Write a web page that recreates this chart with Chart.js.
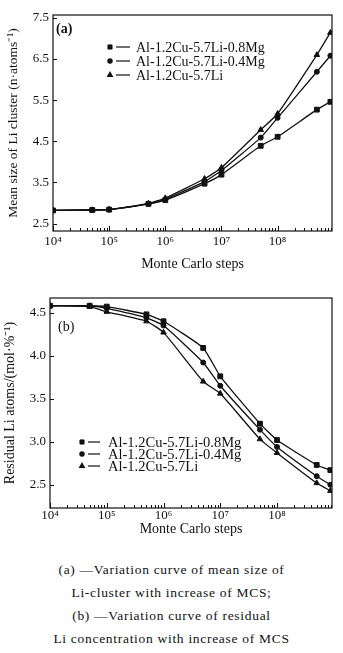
<!DOCTYPE html>
<html>
<head>
<meta charset="utf-8">
<script src="https://cdn.jsdelivr.net/npm/chart.js@4.4.1/dist/chart.umd.min.js"></script>
<style>
    html, body { margin: 0; padding: 0; background: #fff; }
    body { width: 343px; height: 653px; position: relative; overflow: hidden; }
    #chartA { position: absolute; left: 0; top: 0; }
    #chartB { position: absolute; left: 0; top: 280px; }
    #caption {
        position: absolute; left: 0; top: 558px; width: 343px;
        text-align: center; color: #111;
        font: 13.5px "Liberation Serif", serif;
        letter-spacing: 0.7px; line-height: 23px;
    }
</style>
</head>
<body>
<canvas id="chartA" width="343" height="275"></canvas>
<canvas id="chartB" width="343" height="260"></canvas>
<div id="caption">
    (a) —Variation curve of mean size of<br>
    Li-cluster with increase of MCS;<br>
    (b) —Variation curve of residual<br>
    Li concentration with increase of MCS
</div>
<script>
// Monte Carlo steps (x) shared by both panels
const mcsSteps = [1e4, 5e4, 1e5, 5e5, 1e6, 5e6, 1e7, 5e7, 1e8, 5e8, 8.7e8];
const seriesNames = ["Al-1.2Cu-5.7Li-0.8Mg", "Al-1.2Cu-5.7Li-0.4Mg", "Al-1.2Cu-5.7Li"];

// (a) mean size of Li cluster
const sizeMg08 = [2.82, 2.83, 2.84, 2.98, 3.07, 3.47, 3.69, 4.39, 4.61, 5.27, 5.46];
const sizeMg04 = [2.82, 2.83, 2.84, 2.98, 3.09, 3.52, 3.79, 4.59, 5.07, 6.19, 6.58];
const sizeLi   = [2.82, 2.83, 2.84, 2.99, 3.12, 3.59, 3.86, 4.78, 5.17, 6.60, 7.14];

// (b) residual Li atoms
const residMg08 = [4.58, 4.58, 4.57, 4.48, 4.40, 4.09, 3.76, 3.21, 3.02, 2.73, 2.67];
const residMg04 = [4.58, 4.58, 4.55, 4.44, 4.35, 3.92, 3.65, 3.14, 2.94, 2.60, 2.50];
const residLi   = [4.58, 4.57, 4.51, 4.40, 4.27, 3.70, 3.56, 3.03, 2.87, 2.52, 2.43];

const sizeTicks = [2.5, 3.5, 4.5, 5.5, 6.5, 7.5];
const residTicks = [2.5, 3.0, 3.5, 4.0, 4.5];
const decades = [4, 5, 6, 7, 8];

const sup = { "4": "⁴", "5": "⁵", "6": "⁶", "7": "⁷", "8": "⁸" };
const serif = '"Liberation Serif", "Times New Roman", serif';
const ink = "#111";

const isDecade = v => Math.abs(Math.log10(v) - Math.round(Math.log10(v))) < 1e-9;

// log ticks: 1..9 x 10^n, labels only on the decades
function logTicks(scale) {
    const ticks = [];
    decades.forEach(d => {
        for (let m = 1; m <= 9; m++) {
            const v = m * Math.pow(10, d);
            if (v <= scale.max) ticks.push({ value: v });
        }
    });
    scale.ticks = ticks;
}

// frame, inward ticks, panel label and legend
const frameTicks = {
    id: "frameTicks",
    afterDatasetsDraw(chart, args, opts) {
        const { ctx, chartArea: a, scales: { x, y } } = chart;
        ctx.save();
        ctx.strokeStyle = ink;
        ctx.fillStyle = ink;
        ctx.lineWidth = 1.2;
        ctx.strokeRect(a.left, a.top, a.right - a.left, a.bottom - a.top);

        ctx.lineWidth = 1;
        ctx.beginPath();
        x.ticks.forEach(t => {
            const px = Math.round(x.getPixelForValue(t.value)) + 0.5;
            const len = isDecade(t.value) ? 5 : 3;
            ctx.moveTo(px, a.bottom);
            ctx.lineTo(px, a.bottom - len);
        });
        y.ticks.forEach(t => {
            const py = Math.round(y.getPixelForValue(t.value)) + 0.5;
            ctx.moveTo(a.left, py);
            ctx.lineTo(a.left + 4, py);
        });
        ctx.stroke();

        // panel label
        ctx.font = opts.tagFont;
        ctx.textBaseline = "middle";
        ctx.textAlign = "left";
        ctx.fillText(opts.tag, opts.tagX, opts.tagY);

        // legend
        const lg = opts.legend;
        ctx.font = lg.font;
        chart.data.datasets.forEach((ds, i) => {
            const yy = lg.rows[i];
            Chart.helpers.drawPoint(ctx, {
                pointStyle: ds.pointStyle,
                radius: ds.pointRadius * 0.85,
                rotation: 0,
                borderWidth: 1
            }, lg.markerX, yy);
            ctx.beginPath();
            ctx.lineWidth = 1.2;
            ctx.moveTo(lg.lineX1, yy);
            ctx.lineTo(lg.lineX2, yy);
            ctx.stroke();
            ctx.fillText(ds.label, lg.textX, yy + 1);
        });
        ctx.restore();
    }
};

function makeSet(label, values, style, radius) {
    return {
        label: label,
        data: mcsSteps.map((s, i) => ({ x: s, y: values[i] })),
        borderColor: ink,
        backgroundColor: ink,
        borderWidth: 1.3,
        pointStyle: style,
        pointRadius: radius,
        pointBorderWidth: 1,
        tension: 0.15,
        fill: false
    };
}

function makeChart(id, sets, cfg) {
    return new Chart(document.getElementById(id), {
        type: "line",
        data: { datasets: sets },
        options: {
            responsive: false,
            animation: false,
            layout: { padding: cfg.padding },
            plugins: {
                legend: { display: false },
                tooltip: { enabled: false },
                frameTicks: cfg.frame
            },
            scales: {
                x: {
                    type: "logarithmic",
                    min: 1e4,
                    max: 9.3e8,
                    afterBuildTicks: logTicks,
                    afterFit: s => { s.height = cfg.xHeight; },
                    grid: { display: false, drawTicks: false },
                    border: { display: false },
                    ticks: {
                        autoSkip: false,
                        maxRotation: 0,
                        padding: cfg.xTickPad,
                        color: ink,
                        font: { family: serif, size: 13 },
                        callback: v => isDecade(v) ? "10" + sup[String(Math.round(Math.log10(v)))] : ""
                    },
                    title: {
                        display: true,
                        text: "Monte Carlo steps",
                        color: ink,
                        padding: 0,
                        font: { family: serif, size: 14 }
                    }
                },
                y: {
                    type: "linear",
                    min: cfg.yMin,
                    max: cfg.yMax,
                    afterBuildTicks: s => { s.ticks = cfg.yTicks.map(v => ({ value: v })); },
                    afterFit: s => { s.width = 48; },
                    grid: { display: false, drawTicks: false },
                    border: { display: false },
                    ticks: {
                        padding: 4,
                        color: ink,
                        font: { family: serif, size: 13 },
                        callback: v => v.toFixed(1)
                    },
                    title: {
                        display: true,
                        text: cfg.yTitle,
                        color: ink,
                        padding: 0,
                        font: { family: serif, size: cfg.yTitleSize }
                    }
                }
            }
        },
        plugins: [frameTicks]
    });
}

makeChart("chartA", [
    makeSet(seriesNames[0], sizeMg08, "rect", 3.4),
    makeSet(seriesNames[1], sizeMg04, "circle", 2.5),
    makeSet(seriesNames[2], sizeLi, "triangle", 3.2)
], {
    padding: { left: 5, top: 15, right: 11, bottom: 2 },
    xHeight: 42,
    xTickPad: 3,
    yMin: 2.32,
    yMax: 7.57,
    yTicks: sizeTicks,
    yTitle: "Mean size of Li cluster (n·atoms⁻¹)",
    yTitleSize: 13.5,
    frame: {
        tag: "(a)", tagX: 56, tagY: 29,
        tagFont: "bold 14px " + serif,
        legend: {
            font: "14px " + serif,
            markerX: 110, lineX1: 116, lineX2: 130, textX: 136,
            rows: [47, 61, 75]
        }
    }
});

makeChart("chartB", [
    makeSet(seriesNames[0], residMg08, "rect", 3.4),
    makeSet(seriesNames[1], residMg04, "circle", 2.5),
    makeSet(seriesNames[2], residLi, "triangle", 3.2)
], {
    padding: { left: 2, top: 18, right: 11, bottom: 2 },
    xHeight: 30,
    xTickPad: 0,
    yMin: 2.23,
    yMax: 4.67,
    yTicks: residTicks,
    yTitle: "Residual Li atoms/(mol·%⁻¹)",
    yTitleSize: 14,
    frame: {
        tag: "(b)", tagX: 58, tagY: 47,
        tagFont: "14px " + serif,
        legend: {
            font: "14.5px " + serif,
            markerX: 82, lineX1: 88, lineX2: 100, textX: 108,
            rows: [162, 174, 186]
        }
    }
});
</script>
</body>
</html>
